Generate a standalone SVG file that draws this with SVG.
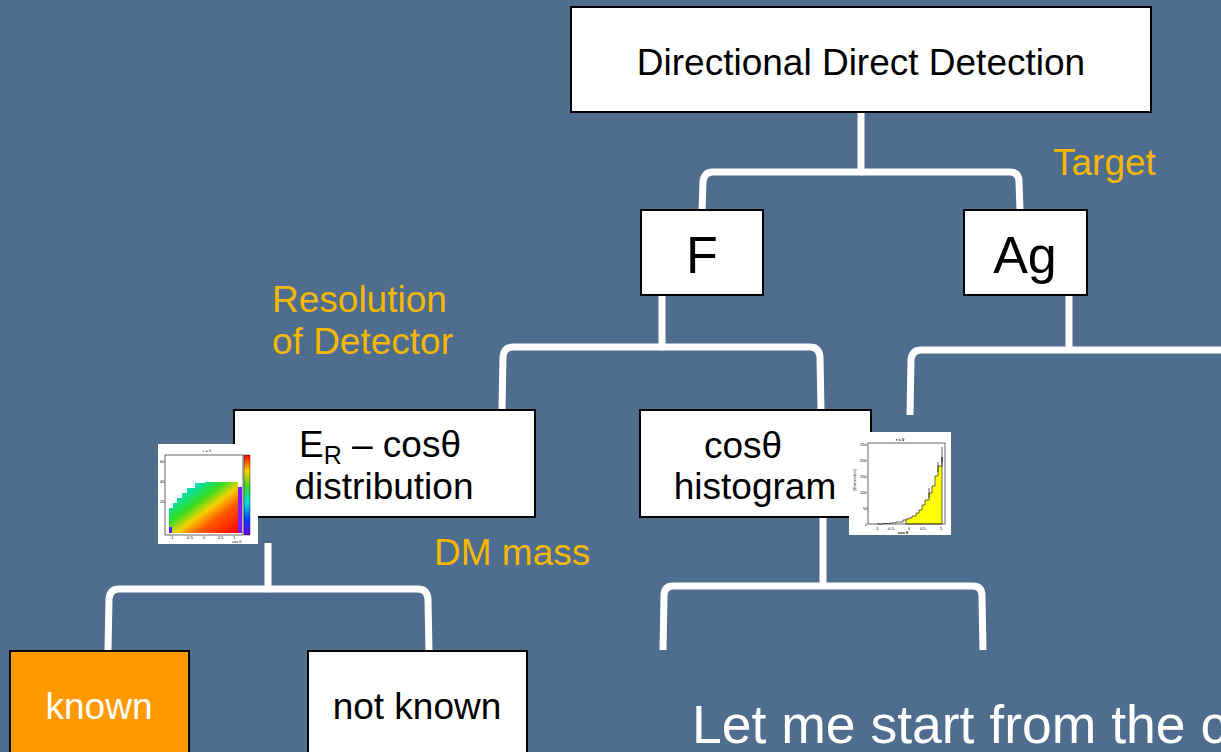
<svg xmlns="http://www.w3.org/2000/svg" width="1221" height="752" viewBox="0 0 1221 752">
<defs>
<style>
.bg{fill:#4F6D8F}
.box{fill:#FFFFFF;stroke:#000000;stroke-width:2}
.kn{fill:#FF9900;stroke:#000000;stroke-width:2}
.t{font-family:"Liberation Sans",Arial,sans-serif;font-size:37px;fill:#000000;text-anchor:middle}
.big{font-size:52px}
.lab{font-family:"Liberation Sans",Arial,sans-serif;font-size:37px;fill:#F5B800}
.wt{fill:#FFFFFF}
.conn{fill:none;stroke:#FFFFFF;stroke-width:7;stroke-linejoin:round}
.tiny{font-family:"Liberation Sans",Arial,sans-serif;font-size:4px;fill:#000}
</style>
<linearGradient id="heat" x1="1" y1="1" x2="0" y2="0">
<stop offset="0" stop-color="#FF0000"/>
<stop offset="0.3" stop-color="#FF5A00"/>
<stop offset="0.45" stop-color="#F5D000"/>
<stop offset="0.6" stop-color="#33DD22"/>
<stop offset="0.8" stop-color="#00E0C0"/>
<stop offset="1" stop-color="#0044FF"/>
</linearGradient>
<linearGradient id="cbar" x1="0" y1="1" x2="0" y2="0">
<stop offset="0" stop-color="#7000FF"/>
<stop offset="0.2" stop-color="#0044FF"/>
<stop offset="0.4" stop-color="#00E0E0"/>
<stop offset="0.6" stop-color="#33DD22"/>
<stop offset="0.8" stop-color="#FFD000"/>
<stop offset="1" stop-color="#FF0000"/>
</linearGradient>
</defs>
<rect class="bg" x="0" y="0" width="1221" height="752"/>

<g id="connectors">
<path class="conn" d="M861,112 V172 H713 Q704,172 703,182 L702,211"/>
<path class="conn" d="M861,172 H1010 Q1019,172 1019,182 L1020,211"/>
<path class="conn" d="M662,295 V347 H513 Q504,347 503,357 L502,410"/>
<path class="conn" d="M662,347 H810 Q819,347 820,357 L821,410"/>
<path class="conn" d="M1069,295 V350 H921 Q912,350 911,360 L910,415"/>
<path class="conn" d="M1069,350 H1221"/>
<path class="conn" d="M268,543 V589 H119 Q110,589 109,599 L108,651"/>
<path class="conn" d="M268,589 H418 Q427,589 428,599 L429,651"/>
<path class="conn" d="M823,517 V586 H673 Q664,586 664,596 L663,650"/>
<path class="conn" d="M823,586 H973 Q982,586 982,596 L983,650"/>
</g>

<g id="node-top">
<rect class="box" x="571" y="7" width="580" height="105"/>
<text class="t" x="861" y="75">Directional Direct Detection</text>
</g>
<g id="label-target"><text class="lab" x="1053" y="175">Target</text></g>
<g id="node-F">
<rect class="box" x="641" y="210" width="122" height="85"/>
<text class="t big" x="702" y="273">F</text>
</g>
<g id="node-Ag">
<rect class="box" x="964" y="210" width="123" height="85"/>
<text class="t big" x="1025" y="273">Ag</text>
</g>
<g id="label-resolution">
<text class="lab" x="272" y="312">Resolution</text>
<text class="lab" x="272" y="354">of Detector</text>
</g>
<g id="node-er">
<rect class="box" x="234" y="410" width="301" height="107"/>
<text class="t" x="380" y="457">E<tspan font-size="25" dy="7">R</tspan><tspan dy="-7"> – cosθ</tspan></text>
<text class="t" x="384" y="499">distribution</text>
</g>
<g id="node-hist">
<rect class="box" x="640" y="410" width="231" height="107"/>
<text class="t" x="743" y="458">cosθ</text>
<text class="t" x="755" y="499">histogram</text>
</g>
<g id="label-dm"><text class="lab" x="434" y="565">DM mass</text></g>

<g id="plot-heatmap">
<rect x="158" y="444" width="100" height="100" fill="#FFFFFF"/>
<text class="tiny" x="203" y="452" font-size="3">r = 0</text>
<polygon fill="url(#heat)" points="169,533 169,508 173,508 173,503 177,503 177,498 182,498 182,493 187,493 187,488 195,488 195,483 205,483 205,482 238,482 238,533"/>
<rect x="238" y="487" width="4" height="46" fill="#7A1CFF"/>
<rect x="169" y="527" width="3" height="6" fill="#5A20FF"/>
<rect x="165" y="455" width="78" height="80" fill="none" stroke="#000" stroke-width="0.6"/>
<rect x="244" y="455" width="6" height="80" fill="url(#cbar)" stroke="#000" stroke-width="0.4"/>
<text class="tiny" x="160" y="463" font-size="2.5">60</text>
<text class="tiny" x="160" y="483" font-size="2.5">40</text>
<text class="tiny" x="160" y="503" font-size="2.5">20</text>
<text class="tiny" x="170" y="539" font-size="2.5">-1</text>
<text class="tiny" x="186" y="539" font-size="2.5">-0.5</text>
<text class="tiny" x="203" y="539" font-size="2.5">0</text>
<text class="tiny" x="218" y="539" font-size="2.5">0.5</text>
<text class="tiny" x="233" y="539" font-size="2.5">1</text>
<text class="tiny" x="232" y="543" font-size="2.5">cos θ</text>
</g>

<g id="plot-histogram">
<rect x="849" y="432" width="102" height="103" fill="#FFFFFF"/>
<text class="tiny" x="900" y="441" text-anchor="middle" font-size="5" font-weight="bold">r = 0</text>
<path fill="#FFFF00" stroke="#000" stroke-width="0.6" d="M906,524 V519 H909 V518 H912 V516 H916 V513 H919 V510 H922 V505 H925 V500 H929 V493 H932 V486 H935 V476 H938 V466 H942 V457 V524 Z"/>
<path fill="none" stroke="#000" stroke-width="0.6" d="M877,524 H883 V523.5 H890 V523 H896 V522 H903 V520 H906"/>
<rect x="868" y="443" width="77" height="81" fill="none" stroke="#000" stroke-width="0.6"/>
<text class="tiny" x="860" y="446" font-size="4">250</text>
<text class="tiny" x="860" y="462" font-size="4">200</text>
<text class="tiny" x="860" y="478" font-size="4">150</text>
<text class="tiny" x="860" y="494" font-size="4">100</text>
<text class="tiny" x="863" y="510" font-size="4">50</text>
<text class="tiny" x="865" y="526" font-size="4">0</text>
<text class="tiny" x="875" y="530" font-size="4">-1</text>
<text class="tiny" x="887" y="530" font-size="4">-0.5</text>
<text class="tiny" x="908" y="530" font-size="4">0</text>
<text class="tiny" x="920" y="530" font-size="4">0.5</text>
<text class="tiny" x="940" y="530" font-size="4">1</text>
<text class="tiny" x="898" y="534" font-size="4" font-weight="bold">cos θ</text>
<text class="tiny" font-size="4" transform="translate(856,480) rotate(-90)" text-anchor="middle">[Entries/bin]</text>
<line x1="942" y1="447" x2="942" y2="462" stroke="#000" stroke-width="0.6"/>
<line x1="938" y1="462" x2="938" y2="472" stroke="#000" stroke-width="0.6"/>
<line x1="929" y1="488" x2="929" y2="498" stroke="#000" stroke-width="0.6"/>
</g>

<g id="node-known">
<rect class="kn" x="10" y="651" width="179" height="110"/>
<text class="t wt" x="99" y="719">known</text>
</g>
<g id="node-notknown">
<rect class="box" x="308" y="651" width="219" height="110"/>
<text class="t" x="417" y="719">not known</text>
</g>
<g id="caption">
<text class="lab wt" x="692" y="743" style="font-size:53.5px">Let me start from the c</text>
</g>
</svg>
